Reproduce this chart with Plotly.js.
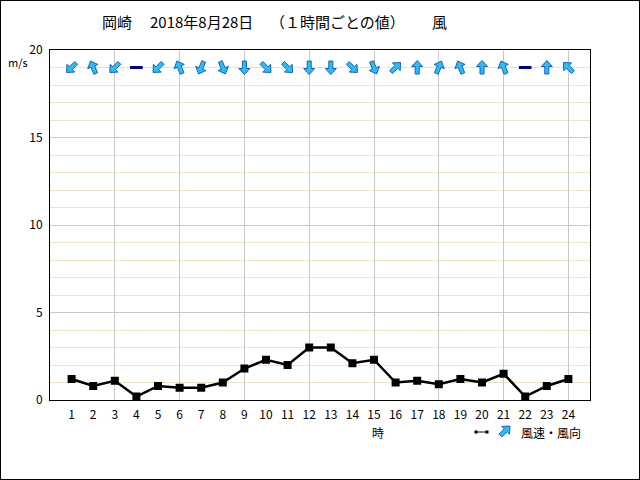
<!DOCTYPE html>
<html>
<head>
<meta charset="utf-8">
<script src="https://cdn.plot.ly/plotly-3.0.1.min.js"></script>
<style>
html,body{margin:0;padding:0;background:#fff;}
#chart{width:640px;height:480px;box-sizing:border-box;border:1px solid #000;}
#chart .gridlayer path, #chart .minor-gridlayer path{shape-rendering:crispEdges;}
</style>
</head>
<body>
<div id="chart"></div>
<script>
// ---- data ----
const hours = [1,2,3,4,5,6,7,8,9,10,11,12,13,14,15,16,17,18,19,20,21,22,23,24];
const windSpeed = [1.2,0.8,1.1,0.2,0.8,0.7,0.7,1.0,1.8,2.3,2.0,3.0,3.0,2.1,2.3,1.0,1.1,0.9,1.2,1.0,1.5,0.2,0.8,1.2];
// wind direction (where the wind blows from), 16 points
const windDir = ['北東','南南東','北東','静穏','北東','南南東','北北東','北北西','北','北西','北西','北','北','北西','北北西','南西','南','南南西','南南東','南','南南東','静穏','南','南東'];
const dirNames = ['北','北北東','北東','東北東','東','東南東','南東','南南東','南','南南西','南西','西南西','西','西北西','北西','北北西'];
const arrowRowLevel = 19;
const titleParts = ['岡崎','2018年8月28日','（１時間ごとの値）','風'];

// pixel helpers for paper-placed text (plot area: x 50..590, y 50..400 in page coords)
const PX = v => (v-50)/540, PY = v => (400-v)/350;

// block-arrow glyph (pixels, pointing up, y up)
const arrowGlyph = [[0,7],[5.5,1],[2,1],[2,-6.5],[-2,-6.5],[-2,1],[-5.5,1]];
function arrowPath(bearing){
  const t = bearing*Math.PI/180, c = Math.cos(t), s = Math.sin(t);
  return arrowGlyph.map((p,i)=>{
    const x = p[0]*c + p[1]*s, y = -p[0]*s + p[1]*c;
    return (i?'L':'M') + x.toFixed(2) + ',' + y.toFixed(2);
  }).join('') + 'Z';
}
const shapes = [];
function addArrow(xv, yv, xref, yref, bearingFrom){
  shapes.push({type:'path', xref:xref, yref:yref, xsizemode:'pixel', ysizemode:'pixel',
    xanchor:xv, yanchor:yv, path:arrowPath(bearingFrom+180),
    fillcolor:'#2ebcf2', line:{color:'#1060c0', width:1}, layer:'above'});
}
const calmX = [], calmY = [];
hours.forEach((h,i)=>{
  const d = windDir[i];
  if (d === '静穏') { calmX.push(h); calmY.push(arrowRowLevel); return; }
  addArrow(h, arrowRowLevel, 'x', 'y', dirNames.indexOf(d)*22.5);
});
// legend icon
addArrow(PX(505), PY(431), 'paper', 'paper', 225);
shapes.push({type:'line', xref:'paper', yref:'paper', x0:PX(476), x1:PX(487), y0:PY(432), y1:PY(432), line:{color:'#000', width:1}});
[476,487].forEach(p=>{
  shapes.push({type:'rect', xref:'paper', yref:'paper', x0:PX(p-1.5), x1:PX(p+1.5), y0:PY(433.5), y1:PY(430.5), line:{width:0}, fillcolor:'#000'});
});

// title and labels
const annotations = [];
const titleLeft = [100,148,268,430];
titleParts.forEach((t,i)=>{
  annotations.push({xref:'paper', yref:'paper', x:PX(titleLeft[i]), y:PY(22), text:t,
    showarrow:false, font:{family:'Noto Sans CJK JP', size:15, color:'#000'}, xanchor:'left', yanchor:'middle'});
});
annotations.push({xref:'paper', yref:'paper', x:PX(18), y:PY(62), text:'m/s', showarrow:false,
  font:{family:'Noto Sans CJK JP', size:11, color:'#000'}, xanchor:'center', yanchor:'middle'});
annotations.push({xref:'paper', yref:'paper', x:PX(378), y:PY(432), text:'時', showarrow:false,
  font:{family:'Noto Sans CJK JP', size:12, color:'#000'}, xanchor:'center', yanchor:'middle'});
annotations.push({xref:'paper', yref:'paper', x:PX(519), y:PY(432), text:'風速・風向', showarrow:false,
  font:{family:'Noto Sans CJK JP', size:12, color:'#000'}, xanchor:'left', yanchor:'middle'});

const traces = [
  {x:hours, y:windSpeed, type:'scatter', mode:'lines+markers', xaxis:'x2',
   line:{color:'#000', width:2.5}, marker:{symbol:'square', size:8, color:'#000'}, hoverinfo:'x+y'},
  {x:calmX, y:calmY, type:'scatter', mode:'markers', xaxis:'x2',
   marker:{symbol:'line-ew', size:9, line:{color:'#000080', width:3}}, hoverinfo:'x'}
];

const tickFont = {family:'Noto Sans CJK JP', size:12, color:'#000'};
const layout = {
  width:638, height:478,
  margin:{l:49, r:49, t:49, b:79, pad:0},
  paper_bgcolor:'#fff', plot_bgcolor:'#fff',
  showlegend:false,
  font:{family:'Noto Sans CJK JP', size:12, color:'#000'},
  xaxis:{range:[0,25], tick0:0, dtick:3, showgrid:true, gridcolor:'#c8c8c8', gridwidth:1, showticklabels:false,
    zeroline:false, showline:true, mirror:true, linecolor:'#000', linewidth:1, ticks:'', fixedrange:true},
  xaxis2:{range:[0,25], overlaying:'x', anchor:'y', side:'bottom', tickvals:hours, ticktext:hours.map(String),
    showgrid:false, zeroline:false, showline:false, ticks:'', ticklabelstandoff:6, tickfont:tickFont, fixedrange:true},
  yaxis:{range:[0,20], tick0:0, dtick:5, showgrid:true, gridcolor:'#c8c8c8', gridwidth:1, zeroline:false,
    showline:true, mirror:true, linecolor:'#000', linewidth:1, ticks:'', ticklabelstandoff:4,
    minor:{tick0:0, dtick:1, showgrid:true, gridcolor:'#eee4c4', gridwidth:1, ticks:''},
    tickfont:tickFont, fixedrange:true},
  annotations:annotations,
  shapes:shapes
};

Plotly.newPlot('chart', traces, layout, {displayModeBar:false, staticPlot:true});
</script>
</body>
</html>
